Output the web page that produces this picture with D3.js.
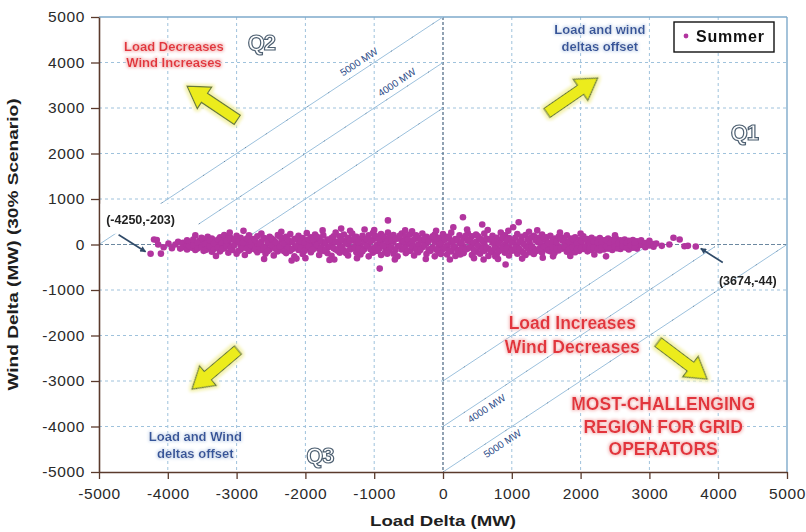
<!DOCTYPE html>
<html>
<head>
<meta charset="utf-8">
<script src="https://cdn.jsdelivr.net/npm/d3@7"></script>
<style>
  body { margin: 0; background: #fff; }
  svg { display: block; font-family: "Liberation Sans", Arial, Helvetica, sans-serif; }
</style>
</head>
<body>
<svg id="chart" width="806" height="532"></svg>
<script>
// Axis ticks (MW)
const xTicks = [-5000, -4000, -3000, -2000, -1000, 0, 1000, 2000, 3000, 4000, 5000];
const yTicks = [-5000, -4000, -3000, -2000, -1000, 0, 1000, 2000, 3000, 4000, 5000];
const gridValues = [-4000, -3000, -2000, -1000, 1000, 2000, 3000, 4000];

// Summer hourly deltas: [load delta, wind delta] in MW
const summerPoints = [
  [-4250,-203],[-4200,110],[-4160,100],[-4140,0],[-4100,-200],[-4060,-60],[-3990,20],[-3940,-80],[-3890,0],[-3850,60],[-3820,-90],
  [-3780,40],[-3780,-60],[-3720,-20],[-3720,90],[-3720,-110],[-3650,30],[-3650,-70],
  [-3600,200],[-3600,0],[-3600,-120],[-3540,80],[-3540,-40],[-3480,120],[-3480,-10],[-3480,-140],
  [-3420,50],[-3420,-90],[-3420,170],[-3360,-20],[-3360,130],[-3360,-160],[-3300,70],[-3300,-60],
  [-3240,160],[-3240,0],[-3240,-150],[-3180,-80],[-3180,90],[-3180,210],[-3120,20],[-3120,-180],[-3120,140],
  [-3060,-40],[-3060,110],[-3060,-120],[-3000,60],[-3000,-200],[-3000,190],[-2940,-10],[-2940,150],[-2940,-110],
  [-2880,90],[-2880,-60],[-2880,-230],[-2820,30],[-2820,200],[-2820,-140],[-2760,-90],[-2760,120],[-2760,10],
  [-2700,180],[-2700,-30],[-2700,-170],[-2640,60],[-2640,-120],[-2640,240],[-2580,-50],[-2580,130],[-2580,-200],
  [-2520,20],[-2520,-110],[-2520,170],[-2460,100],[-2460,-60],[-2460,-240],[-2400,-10],[-2400,210],[-2400,-150],
  [-2340,80],[-2340,-90],[-2340,140],[-2280,-30],[-2280,170],[-2280,-190],[-2220,50],[-2220,-140],[-2220,230],
  [-2160,-70],[-2160,120],[-2160,-260],[-2130,-310],[-2100,30],[-2100,190],[-2100,-120],
  [-2040,-20],[-2040,140],[-2040,-210],[-1980,90],[-1980,-80],[-1980,250],[-1920,0],[-1920,-170],[-1920,160],
  [-1860,60],[-1860,-60],[-1860,220],[-1800,-100],[-1800,130],[-1800,-230],[-1740,20],[-1740,200],[-1740,-140],
  [-1680,-60],[-1680,110],[-1680,-190],[-1620,140],[-1620,10],[-1620,-250],[-1580,-330],
  [-1560,60],[-1560,-110],[-1560,260],[-1500,-30],[-1500,180],[-1500,-180],[-1480,350],
  [-1440,80],[-1440,-130],[-1440,220],[-1380,0],[-1380,150],[-1380,-240],[-1320,-80],[-1320,240],[-1320,90],
  [-1260,40],[-1260,-170],[-1260,170],[-1200,-20],[-1200,120],[-1200,-220],[-1140,330],[-1140,60],[-1140,-100],
  [-1080,200],[-1080,-40],[-1080,-260],[-1020,100],[-1020,-180],[-1020,250],[-960,-10],[-960,160],[-960,-140],
  [-920,-530],[-900,50],[-900,-230],[-900,230],[-840,-70],[-840,120],[-840,-170],[-800,530],[-800,10],[-800,260],
  [-780,-120],[-780,170],[-720,60],[-720,-200],[-720,210],[-660,-40],[-660,130],[-660,-260],
  [-600,90],[-600,-110],[-600,240],[-540,-20],[-540,180],[-540,-190],[-480,40],[-480,-140],[-480,220],[-450,290],
  [-420,-80],[-420,110],[-420,-240],[-360,150],[-360,0],[-360,-170],[-300,-60],[-300,240],[-300,80],
  [-240,20],[-240,-210],[-240,170],[-180,-100],[-180,130],[-180,-140],[-120,60],[-120,220],[-120,-260],
  [-60,-30],[-60,150],[-60,-180],[0,90],[0,-100],[0,230],[60,-20],[60,170],[60,-220],
  [120,50],[120,-150],[120,260],[150,380],[180,-70],[180,120],[180,-250],[240,30],[240,200],[240,-120],[250,-220],
  [290,600],[300,-40],[300,140],[300,-190],[360,80],[360,-90],[360,250],[420,-10],[420,180],[420,-230],
  [480,60],[480,-160],[480,220],[540,-60],[540,130],[540,-200],[570,440],[590,-330],
  [600,20],[600,240],[600,-140],[660,-90],[660,110],[660,-250],[720,40],[720,190],[720,-170],[760,-260],
  [780,-30],[780,150],[780,-220],[840,100],[840,-120],[840,260],[900,0],[900,200],[900,-180],[910,-440],
  [960,-70],[960,140],[960,-240],[1020,380],[1020,60],[1020,-130],[1080,-20],[1080,230],[1080,-200],[1100,490],
  [1140,90],[1140,-150],[1140,170],[1200,-40],[1200,210],[1200,-230],[1260,30],[1260,130],[1260,-170],
  [1320,-90],[1320,190],[1320,-210],[1370,310],[1380,50],[1380,-130],[1380,150],[1440,-20],[1440,220],[1440,-180],
  [1500,70],[1500,-100],[1500,160],[1560,-60],[1560,190],[1560,-150],[1600,-260],[1620,20],[1620,130],[1620,-190],
  [1680,-40],[1680,170],[1680,-130],[1740,80],[1740,-90],[1740,150],[1800,-20],[1800,200],[1800,-160],
  [1860,40],[1860,-120],[1860,130],[1920,-70],[1920,160],[1920,-170],[1980,10],[1980,110],[1980,-140],
  [2040,-40],[2040,180],[2040,-100],[2100,60],[2100,-150],[2100,120],[2160,-20],[2160,150],[2160,-120],
  [2220,30],[2220,-90],[2220,110],[2280,-50],[2280,140],[2280,-130],[2340,20],[2340,90],[2340,-110],[2370,-260],
  [2400,-30],[2400,130],[2400,-90],[2460,40],[2460,-120],[2460,100],[2520,-20],[2520,120],[2520,-80],
  [2580,30],[2580,-100],[2580,90],[2640,-40],[2640,110],[2640,-60],[2700,10],[2700,80],[2700,-110],
  [2760,-30],[2760,100],[2760,-70],[2820,20],[2820,-90],[2820,70],[2880,-10],[2880,90],[2940,30],[2940,-60],
  [3000,-20],[3000,80],[3060,10],[3060,-50],[3100,20],[3180,-30],[3290,0],[3350,150],[3440,110],[3510,-40],[3560,-30],[3674,-44],
  [-3690,50],[-3690,-40],[-3630,-10],[-3630,110],[-3570,40],[-3570,-90],[-3510,-60],[-3510,150],[-3450,10],[-3450,-120],
  [-3390,90],[-3390,-50],[-3330,-100],[-3330,30],[-3270,110],[-3270,-70],[-3210,40],[-3210,-100],[-3150,-30],[-3150,80],
  [-3090,150],[-3090,-80],[-3030,-10],[-3030,110],[-2970,70],[-2970,-140],[-2910,-60],[-2910,40],[-2850,130],[-2850,-90],
  [-2790,-30],[-2790,70],[-2730,100],[-2730,-110],[-2670,-60],[-2670,20],[-2610,150],[-2610,-70],[-2550,60],[-2550,-150],
  [-2490,-20],[-2490,130],[-2430,50],[-2430,-100],[-2370,-50],[-2370,170],[-2310,20],[-2310,-150],[-2250,100],[-2250,-60],
  [-2190,-100],[-2190,60],[-2130,130],[-2130,-40],[-2070,-70],[-2070,70],[-2010,40],[-2010,-140],[-1950,-40],[-1950,110],
  [-1890,120],[-1890,-110],[-1830,-10],[-1830,170],[-1770,70],[-1770,-80],[-1710,-120],[-1710,40],[-1650,100],[-1650,-50],
  [-1590,-80],[-1590,180],[-1530,60],[-1530,-140],[-1470,-60],[-1470,100],[-1410,30],[-1410,-190],[-1350,-110],[-1350,80],
  [-1290,130],[-1290,-60],[-1230,-90],[-1230,50],[-1170,190],[-1170,-150],[-1110,-20],[-1110,120],[-1050,70],[-1050,-110],
  [-990,-60],[-990,200],[-930,110],[-930,-100],[-870,-20],[-870,180],[-810,70],[-810,-200],[-750,-60],[-750,90],
  [-690,130],[-690,-120],[-630,-30],[-630,190],[-570,60],[-570,-90],[-510,-140],[-510,110],[-450,40],[-450,-50],
  [-390,-110],[-390,200],[-330,100],[-330,-120],[-270,-20],[-270,120],[-210,70],[-210,-110],[-150,-60],[-150,180],
  [-90,110],[-90,-120],[-30,20],[-30,-210],[30,-80],[30,110],[90,140],[90,-130],[150,-40],[150,70],
  [210,100],[210,-160],[270,-90],[270,50],[330,190],[330,-110],[390,-60],[390,100],[450,40],[450,-120],
  [510,-20],[510,180],[570,90],[570,-100],[630,-60],[630,130],[690,120],[690,-140],[750,-80],[750,60],
  [810,20],[810,-150],[870,-60],[870,150],[930,100],[930,-90],[990,-140],[990,40],[1050,150],[1050,-70],
  [1110,-100],[1110,60],[1170,10],[1170,-180],[1230,110],[1230,-80],[1290,-40],[1290,160],[1350,90],[1350,-150],
  [1410,-80],[1410,70],[1470,140],[1470,-50],[1530,-130],[1530,30],[1590,80],[1590,-60],[1650,-100],[1650,60],
  [1710,130],[1710,-80],[1770,-40],[1770,90],[1830,60],[1830,-110],[1890,-60],[1890,120],[1950,40],[1950,-100],
  [2010,-80],[2010,70],[2070,110],[2070,-50],[2130,-90],[2130,40],[2190,70],[2190,-60],[2250,-100],[2250,50],
  [2310,40],[2310,-60],[2370,100],[2370,-40],[2430,-70],[2430,40],[2490,60],[2490,-50],[2550,-80],[2550,30],
  [2610,50],[2610,-40],[2670,-70],[2670,40],[2730,60],[2730,-30],[2790,-40],[2790,40],
  [-3300,-250],[-3100,260],[-2900,300],[-2600,-320],[-2350,280],[-2200,-350],[-2000,-300],[-1750,310],[-1650,-340],
  [-1350,300],[-1250,-300],[-1000,320],[-700,-330],[-550,310],[-250,-320],[-100,300],[100,-330],[350,330],
  [450,-300],[650,320],[800,-320],[950,300],[1150,-310],[1250,280],[1450,-290],[1700,260],[1850,-250],
  [2000,240],[2200,-220],[2500,200]
];

// Constant net-change reference lines: wind - load = offset
const offsetLines = [
  { offset: 5000, from: -5000, to: 0 },
  { offset: 4000, from: -3550, to: 0 },
  { offset: 3000, from: -2780, to: 0 },
  { offset: -3000, from: 0, to: 2900 },
  { offset: -4000, from: 0, to: 3950 },
  { offset: -5000, from: 0, to: 5000 }
];
const offsetLabels = [
  { text: "5000 MW", offset: 5000, load: -1150, side: 1 },
  { text: "4000 MW", offset: 4000, load: -600, side: 1 },
  { text: "4000 MW", offset: -4000, load: 560, side: -1 },
  { text: "5000 MW", offset: -5000, load: 790, side: -1 }
];

// Direction arrows, [tail, tip] in MW
const directionArrows = [
  [[-2990, 2740], [-3720, 3480]],
  [[1510, 2890], [2250, 3660]],
  [[-2980, -2320], [-3650, -3180]],
  [[3125, -2145], [3840, -2960]]
];

const quadrantLabels = [
  { text: "Q2", load: -2640, wind: 4440 },
  { text: "Q1", load: 4380, wind: 2470 },
  { text: "Q3", load: -1790, wind: -4640 }
];

const W = 806, H = 532;
const svg = d3.select("#chart");
const x = d3.scaleLinear().domain([-5000, 5000]).range([99, 787]);
const y = d3.scaleLinear().domain([-5000, 5000]).range([472, 17]);

const defs = svg.append("defs");
function halo(id, color, r) {
  const f = defs.append("filter").attr("id", id).attr("x", "-20%").attr("y", "-40%").attr("width", "140%").attr("height", "180%");
  f.append("feMorphology").attr("in", "SourceAlpha").attr("operator", "dilate").attr("radius", r).attr("result", "d");
  f.append("feGaussianBlur").attr("in", "d").attr("stdDeviation", 1.6).attr("result", "b");
  f.append("feFlood").attr("flood-color", color);
  f.append("feComposite").attr("in2", "b").attr("operator", "in").attr("result", "g");
  const m = f.append("feMerge");
  m.append("feMergeNode").attr("in", "g");
  m.append("feMergeNode").attr("in", "SourceGraphic");
}
halo("haloRed", "#f6c4c4", 1.2);
halo("haloBlue", "#d6e2f2", 1.0);
halo("haloYellow", "#f4f2b0", 1.5);

defs.append("marker").attr("id", "tipHead").attr("viewBox", "0 0 10 10")
  .attr("refX", 9).attr("refY", 5).attr("markerWidth", 7).attr("markerHeight", 6)
  .attr("orient", "auto").attr("markerUnits", "userSpaceOnUse")
  .append("path").attr("d", "M0,0 L10,5 L0,10 Z").attr("fill", "#2f4a68");

svg.append("rect").attr("width", W).attr("height", H).attr("fill", "#fff");

// Grid
const grid = svg.append("g");
gridValues.forEach(v => {
  grid.append("line").attr("x1", x(v)).attr("x2", x(v)).attr("y1", y(5000)).attr("y2", y(-5000))
    .attr("stroke", "#9fc2dc").attr("stroke-width", 1).attr("stroke-dasharray", "3,3");
  grid.append("line").attr("x1", x(-5000)).attr("x2", x(5000)).attr("y1", y(v)).attr("y2", y(v))
    .attr("stroke", "#9fc2dc").attr("stroke-width", 1).attr("stroke-dasharray", "3,3");
});
grid.append("line").attr("x1", x(0)).attr("x2", x(0)).attr("y1", y(5000)).attr("y2", y(-5000))
  .attr("stroke", "#56708a").attr("stroke-width", 1.3).attr("stroke-dasharray", "3,2");
grid.append("line").attr("x1", x(-5000)).attr("x2", x(5000)).attr("y1", y(0)).attr("y2", y(0))
  .attr("stroke", "#6c88a0").attr("stroke-width", 1.2).attr("stroke-dasharray", "4,2");

// Top and right frame
svg.append("line").attr("x1", x(-5000)).attr("x2", x(5000)).attr("y1", y(5000)).attr("y2", y(5000))
  .attr("stroke", "#7eaacb").attr("stroke-width", 1.4);
svg.append("line").attr("x1", x(5000)).attr("x2", x(5000)).attr("y1", y(5000)).attr("y2", y(-5000))
  .attr("stroke", "#7eaacb").attr("stroke-width", 1.4);

// Offset reference lines
const refG = svg.append("g");
offsetLines.forEach(l => {
  refG.append("line")
    .attr("x1", x(l.from)).attr("y1", y(l.from + l.offset))
    .attr("x2", x(l.to)).attr("y2", y(l.to + l.offset))
    .attr("stroke", "#9cc1dd").attr("stroke-width", 1);
  refG.append("line")
    .attr("x1", x(l.from)).attr("y1", y(l.from + l.offset))
    .attr("x2", x(l.to)).attr("y2", y(l.to + l.offset))
    .attr("stroke", "#3d5670").attr("stroke-width", 1).attr("stroke-dasharray", "1,24").attr("opacity", 0.7);
});
const slopeAngle = Math.atan2(y(1000) - y(0), x(1000) - x(0));
const slopeDeg = slopeAngle * 180 / Math.PI;
const nx = Math.sin(slopeAngle), ny = -Math.cos(slopeAngle);
offsetLabels.forEach(lb => {
  const px = x(lb.load), py = y(lb.load + lb.offset);
  const cx = px + nx * 9 * lb.side, cy = py + ny * 9 * lb.side;
  refG.append("text")
    .attr("transform", `translate(${cx},${cy}) rotate(${slopeDeg})`)
    .attr("text-anchor", "middle").attr("dy", "0.35em")
    .attr("font-size", 10).attr("fill", "#2b4a86")
    .attr("stroke", "#fff").attr("stroke-width", 3).attr("paint-order", "stroke")
    .text(lb.text);
});

// Scatter
svg.append("g").selectAll("circle").data(summerPoints).join("circle")
  .attr("cx", d => x(d[0])).attr("cy", d => y(d[1])).attr("r", 3.3)
  .attr("fill", "#b2359f");

// Axes
const axisColor = "#5a3a2c";
const yAxis = svg.append("g").attr("transform", `translate(${x(-5000)},0)`)
  .call(d3.axisLeft(y).tickValues(yTicks).tickSize(8).tickSizeOuter(0).tickPadding(6).tickFormat(d => String(d)));
const xAxis = svg.append("g").attr("transform", `translate(0,${y(-5000)})`)
  .call(d3.axisBottom(x).tickValues(xTicks).tickSize(7).tickSizeOuter(0).tickPadding(9).tickFormat(d => String(d)));
[yAxis, xAxis].forEach(g => {
  g.select(".domain").attr("stroke", axisColor).attr("stroke-width", 1.6);
  g.selectAll(".tick line").attr("stroke", axisColor).attr("stroke-width", 1.3);
  g.selectAll(".tick text").attr("fill", "#2a2a2a").attr("font-size", 15.5)
    .attr("font-family", "\"Liberation Sans\", Arial, sans-serif").attr("letter-spacing", "0.6px");
});

// Axis titles
svg.append("text").attr("x", x(0)).attr("y", 526).attr("text-anchor", "middle")
  .attr("font-size", 15).attr("font-weight", "bold").attr("fill", "#1e1e1e")
  .attr("textLength", 146).attr("lengthAdjust", "spacingAndGlyphs")
  .text("Load Delta (MW)");
svg.append("text").attr("transform", `translate(18,${y(0)}) rotate(-90)`).attr("text-anchor", "middle")
  .attr("font-size", 14).attr("font-weight", "bold").attr("fill", "#1e1e1e")
  .attr("textLength", 292).attr("lengthAdjust", "spacingAndGlyphs")
  .text("Wind Delta (MW) (30% Scenario)");

// Direction arrows
const arrowG = svg.append("g").attr("filter", "url(#haloYellow)");
directionArrows.forEach(([tail, tip]) => {
  const x0 = x(tail[0]), y0 = y(tail[1]), x1 = x(tip[0]), y1 = y(tip[1]);
  const len = Math.hypot(x1 - x0, y1 - y0);
  const ang = Math.atan2(y1 - y0, x1 - x0) * 180 / Math.PI;
  const hl = 21, sw = 5.5, hw = 13;
  arrowG.append("path")
    .attr("d", `M0,${-sw} L${len - hl},${-sw} L${len - hl},${-hw} L${len},0 L${len - hl},${hw} L${len - hl},${sw} L0,${sw} Z`)
    .attr("transform", `translate(${x0},${y0}) rotate(${ang})`)
    .attr("fill", "#ecec1c").attr("stroke", "#667a3c").attr("stroke-width", 1.2).attr("stroke-linejoin", "miter");
});

// Quadrant labels (outlined)
quadrantLabels.forEach(q => {
  svg.append("text").attr("x", x(q.load)).attr("y", y(q.wind)).attr("text-anchor", "middle").attr("dy", "0.35em")
    .attr("font-size", 22).attr("font-weight", "bold").attr("fill", "#fff")
    .attr("stroke", "#4e6072").attr("stroke-width", 1.2).attr("letter-spacing", "-1px")
    .text(q.text);
});

// Region text blocks
function block(lines, cxMW, firstBaselineMW, size, color, filt, lineGap) {
  const t = svg.append("text").attr("text-anchor", "middle").attr("font-size", size)
    .attr("font-weight", "bold").attr("fill", color).attr("filter", filt);
  lines.forEach((s, i) => {
    t.append("tspan").attr("x", x(cxMW)).attr("y", y(firstBaselineMW) + i * lineGap).text(s);
  });
}
block(["Load Decreases", "Wind Increases"], -3910, 4250, 13, "#e2343c", "url(#haloRed)", 16);
block(["Load and wind", "deltas offset"], 2280, 4625, 13, "#36559a", "url(#haloBlue)", 17);
block(["Load and Wind", "deltas offset"], -3600, -4320, 13, "#36559a", "url(#haloBlue)", 17);
block(["Load Increases", "Wind Decreases"], 1880, -1855, 17.5, "#e2343c", "url(#haloRed)", 24);
block(["MOST-CHALLENGING", "REGION FOR GRID", "OPERATORS"], 3200, -3640, 17.5, "#e2343c", "url(#haloRed)", 22.5);

// Labelled extreme points
const ann = svg.append("g");
// (-4250,-203)
{
  const px = x(-4250), py = y(-203);
  ann.append("rect").attr("x", x(-4250) - 50).attr("y", py - 50).attr("width", 86).attr("height", 30).attr("fill", "#fff");
  ann.append("text").attr("x", px - 10).attr("y", py - 30).attr("text-anchor", "middle")
    .attr("font-size", 12.5).attr("font-weight", "bold").attr("fill", "#222").text("(-4250,-203)");
  ann.append("line").attr("x1", px - 32).attr("y1", py - 19).attr("x2", px - 5).attr("y2", py - 2)
    .attr("stroke", "#2f4a68").attr("stroke-width", 1.6).attr("marker-end", "url(#tipHead)");
}
// (3674,-44)
{
  const px = x(3674), py = y(-44);
  ann.append("text").attr("x", px + 52).attr("y", py + 38).attr("text-anchor", "middle")
    .attr("font-size", 12.5).attr("font-weight", "bold").attr("fill", "#222").text("(3674,-44)");
  ann.append("line").attr("x1", px + 27).attr("y1", py + 16).attr("x2", px + 5).attr("y2", py + 2)
    .attr("stroke", "#2f4a68").attr("stroke-width", 1.6).attr("marker-end", "url(#tipHead)");
}

// Legend
const lg = svg.append("g");
lg.append("rect").attr("x", 674).attr("y", 22).attr("width", 100).attr("height", 30)
  .attr("fill", "#fff").attr("stroke", "#111").attr("stroke-width", 1.4);
lg.append("circle").attr("cx", 686).attr("cy", 36).attr("r", 2.4).attr("fill", "#b2359f");
lg.append("text").attr("x", 696).attr("y", 42).attr("font-size", 16).attr("font-weight", "bold")
  .attr("fill", "#111").attr("letter-spacing", "0.8px").text("Summer");
</script>
</body>
</html>
